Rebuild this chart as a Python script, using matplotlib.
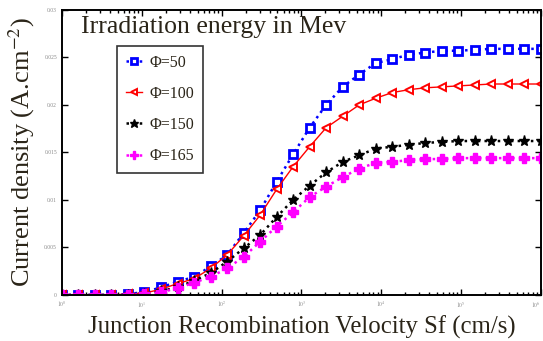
import matplotlib
matplotlib.use("Agg")
import matplotlib.pyplot as plt
import numpy as np

# junction recombination velocity Sf (cm/s), log spaced samples
sf = np.logspace(0, 6, 30)

# current density (A.cm-2) for each irradiation energy
j_phi50 = [0, 0, 0, 0, 0.0001, 0.0003, 0.0008, 0.0014, 0.0019, 0.0030,
           0.0042, 0.0065, 0.0089, 0.0119, 0.0148, 0.0176, 0.0200, 0.0219, 0.0232, 0.0244,
           0.0248, 0.0253, 0.0255, 0.0257, 0.0257, 0.0258, 0.0259, 0.0259, 0.0259, 0.0259]
j_phi100 = [0, 0, 0, 0, 0.0001, 0.0002, 0.0006, 0.0012, 0.0017, 0.0028,
            0.0042, 0.0062, 0.0084, 0.0111, 0.0135, 0.0156, 0.0176, 0.0188, 0.0200, 0.0207,
            0.0213, 0.0216, 0.0218, 0.0219, 0.0220, 0.0221, 0.0222, 0.0222, 0.0222, 0.0222]
j_phi150 = [0, 0, 0, 0, 0, 0.0001, 0.0004, 0.0008, 0.0015, 0.0023,
            0.0035, 0.0049, 0.0063, 0.0082, 0.0100, 0.0115, 0.0129, 0.0140, 0.0147, 0.0154,
            0.0156, 0.0158, 0.0160, 0.0161, 0.0162, 0.0162, 0.0162, 0.0162, 0.0162, 0.0162]
j_phi165 = [0, 0, 0, 0, 0, 0.0001, 0.0003, 0.0007, 0.0013, 0.0019,
            0.0028, 0.0040, 0.0056, 0.0072, 0.0087, 0.0103, 0.0114, 0.0124, 0.0133, 0.0139,
            0.0140, 0.0142, 0.0143, 0.0143, 0.0144, 0.0144, 0.0144, 0.0144, 0.0144, 0.0144]

labels = ["\u03a6=50", "\u03a6=100", "\u03a6=150", "\u03a6=165"]
y_ticks = [0, 0.005, 0.01, 0.015, 0.02, 0.025, 0.03]
y_tick_labels = ["0", "0.005", "0.01", "0.015", "0.02", "0.025", "0.03"]
x_ticks = [1, 10, 100, 1000, 1e4, 1e5, 1e6]
x_tick_labels = ["$10^{0}$", "$10^{1}$", "$10^{2}$", "$10^{3}$",
                 "$10^{4}$", "$10^{5}$", "$10^{6}$"]

plt.rcParams['font.family'] = ['Liberation Serif', 'DejaVu Serif']
plt.rcParams['mathtext.fontset'] = 'stix'
text_col = '#2a2418'

fig = plt.figure(figsize=(5.43, 3.41), dpi=100)
ax = fig.add_axes([0.114, 0.135, 0.882, 0.836])

ax.plot(sf, j_phi50, color='blue', ls=':', lw=1.8, marker='s', ms=5.5,
        mfc='white', mec='blue', mew=2.0, label=labels[0])
ax.plot(sf, j_phi100, color='red', ls='-', lw=1.0, marker='<', ms=5.5,
        mfc='white', mec='red', mew=1.4, label=labels[1])
ax.plot(sf, j_phi150, color='black', ls=':', lw=1.8, marker='*', ms=8,
        mfc='black', mec='black', label=labels[2])
ax.plot(sf, j_phi165, color='magenta', ls=':', lw=1.8, marker='P', ms=6.5,
        mfc='magenta', mec='magenta', label=labels[3])

ax.set_xscale('log')
ax.set_xlim(1, 1e6)
ax.set_ylim(0, 0.03)
ax.set_yticks(y_ticks)
ax.set_yticklabels(y_tick_labels)
ax.set_xticks(x_ticks)
ax.set_xticklabels(x_tick_labels)

ax.tick_params(which='both', direction='in', top=True, right=True,
               labelsize=4, labelcolor='#888888', width=1.0)
ax.tick_params(which='major', length=4)
ax.tick_params(which='minor', length=2)
for s in ax.spines.values():
    s.set_linewidth(1.4)

# keep the edge tick labels inside the picture
xt = ax.get_xticklabels()
xt[-1].set_ha('right')

ax.set_xlabel("Junction Recombination Velocity Sf (cm/s)", fontsize=17.8,
              color=text_col, labelpad=4)
ax.set_ylabel("Current density (A.cm$^{-2}$)", fontsize=19, color=text_col,
              labelpad=5)

ax.text(0.04, 0.94, "Irradiation energy in Mev", transform=ax.transAxes,
        fontsize=18.5, color=text_col, va='center', ha='left')

leg = ax.legend(loc='upper left', bbox_to_anchor=(0.115, 0.874), fontsize=11.5,
                frameon=True, fancybox=False, edgecolor='black',
                handlelength=1.0, borderpad=0.55, labelspacing=0.95,
                handletextpad=0.5, markerscale=0.8, borderaxespad=0)
leg.get_frame().set_linewidth(1.2)
for t in leg.get_texts():
    t.set_color(text_col)

fig.savefig("out.png", dpi=100)
